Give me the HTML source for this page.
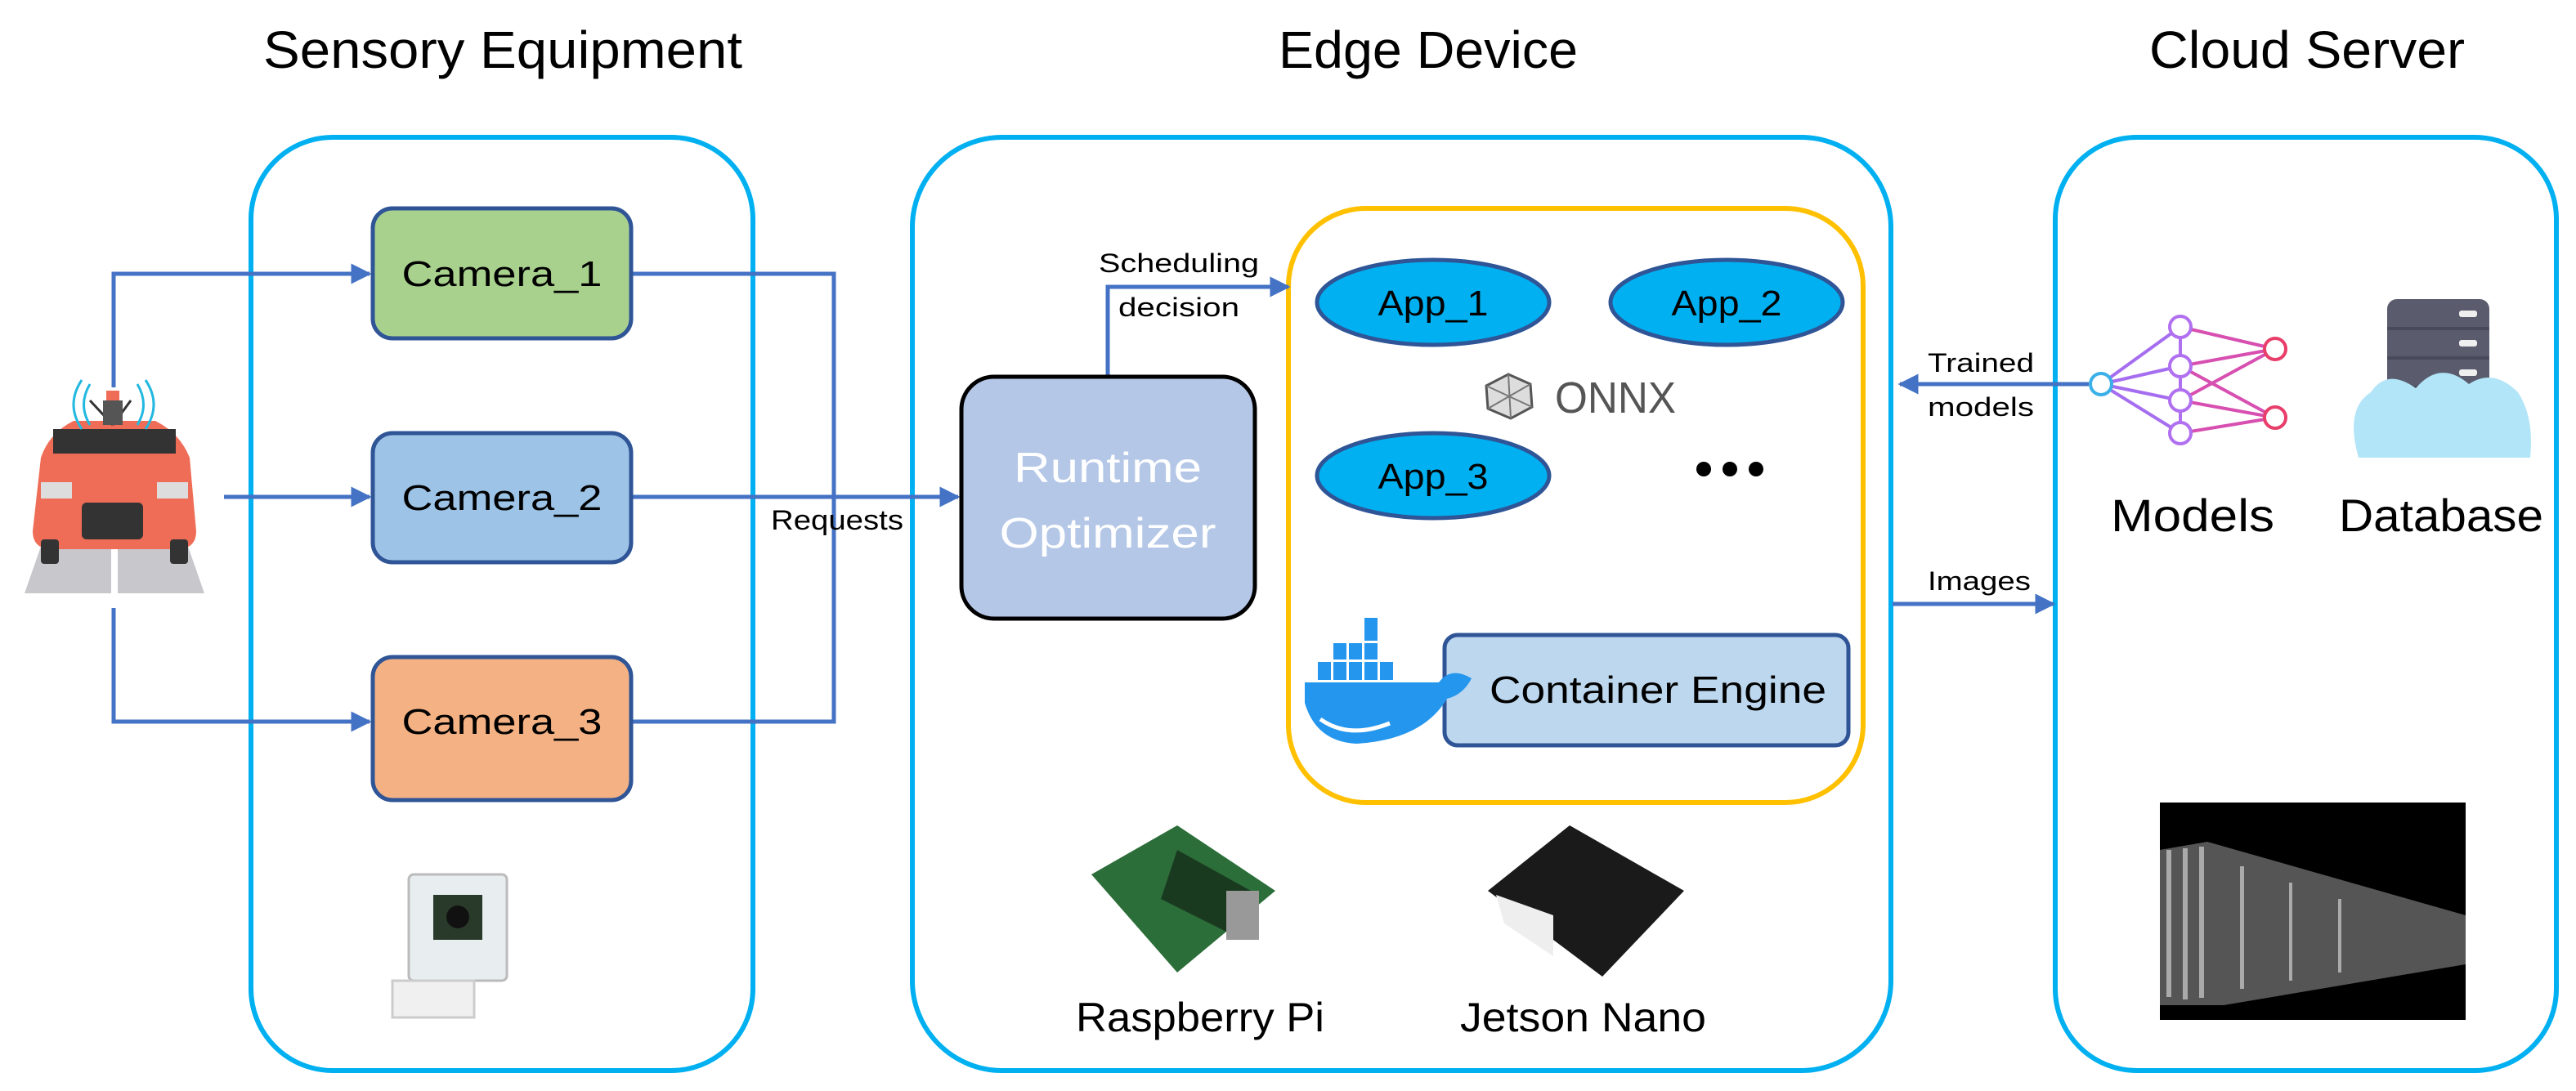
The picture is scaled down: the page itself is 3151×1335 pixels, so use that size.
<!DOCTYPE html>
<html><head><meta charset="utf-8"><style>html,body{margin:0;padding:0;background:#fff}svg{display:block}text{font-family:"Liberation Sans",sans-serif}</style></head>
<body>
<svg width="3151" height="1335" viewBox="0 0 3151 1335" xmlns="http://www.w3.org/2000/svg">
<defs>
<marker id="ah" viewBox="0 0 10 10" refX="9" refY="5" markerWidth="5" markerHeight="5" orient="auto"><path d="M0,0L10,5L0,10z" fill="#4472c4"/></marker>
</defs>
<!-- titles -->
<text x="322" y="83" font-size="64" textLength="586" lengthAdjust="spacingAndGlyphs">Sensory Equipment</text>
<text x="1564" y="83" font-size="64" textLength="366" lengthAdjust="spacingAndGlyphs">Edge Device</text>
<text x="2629" y="83" font-size="64" textLength="386" lengthAdjust="spacingAndGlyphs">Cloud Server</text>
<!-- big containers -->
<rect x="307" y="168" width="614" height="1142" rx="100" fill="none" stroke="#00b0f0" stroke-width="6"/>
<rect x="1116" y="168" width="1197" height="1142" rx="110" fill="none" stroke="#00b0f0" stroke-width="6"/>
<rect x="2514" y="168" width="613" height="1142" rx="100" fill="none" stroke="#00b0f0" stroke-width="6"/>
<rect x="1576" y="255" width="703" height="727" rx="95" fill="none" stroke="#ffc000" stroke-width="6"/>
<!-- connectors -->
<g stroke="#4472c4" stroke-width="5" fill="none">
<polyline points="139,474 139,335 452,335" marker-end="url(#ah)"/>
<polyline points="274,608 452,608" marker-end="url(#ah)"/>
<polyline points="139,744 139,883 452,883" marker-end="url(#ah)"/>
<polyline points="774,335 1020,335 1020,883 774,883"/>
<polyline points="774,608 1172,608" marker-end="url(#ah)"/>
<polyline points="1355,461 1355,351 1576,351" marker-end="url(#ah)"/>
<polyline points="2555,470 2324,470" marker-end="url(#ah)"/>
<polyline points="2315,739 2512,739" marker-end="url(#ah)"/>
</g>
<!-- cameras -->
<rect x="456" y="255" width="316" height="159" rx="24" fill="#a9d18e" stroke="#2f5597" stroke-width="5"/>
<rect x="456" y="530" width="316" height="158" rx="24" fill="#9dc3e6" stroke="#2f5597" stroke-width="5"/>
<rect x="456" y="804" width="316" height="175" rx="24" fill="#f4b183" stroke="#2f5597" stroke-width="5"/>
<text x="614" y="350" font-size="44" text-anchor="middle" textLength="245" lengthAdjust="spacingAndGlyphs">Camera_1</text>
<text x="614" y="624" font-size="44" text-anchor="middle" textLength="245" lengthAdjust="spacingAndGlyphs">Camera_2</text>
<text x="614" y="898" font-size="44" text-anchor="middle" textLength="245" lengthAdjust="spacingAndGlyphs">Camera_3</text>
<text x="943" y="648" font-size="34" textLength="162" lengthAdjust="spacingAndGlyphs">Requests</text>
<!-- car -->
<g>
<polygon points="30,726 250,726 220,640 60,640" fill="#c8c8cc"/>
<rect x="136" y="660" width="8" height="66" fill="#fff"/>
<path d="M50,560 Q60,530 90,515 L190,515 Q220,530 232,560 L240,650 Q240,670 220,672 L60,672 Q40,670 40,650Z" fill="#ef6c56"/>
<rect x="65" y="525" width="150" height="30" fill="#333"/>
<rect x="100" y="615" width="75" height="45" fill="#333" rx="6"/>
<rect x="50" y="590" width="38" height="20" fill="#ddd"/><rect x="192" y="590" width="38" height="20" fill="#ddd"/>
<rect x="50" y="660" width="22" height="30" fill="#333" rx="4"/><rect x="208" y="660" width="22" height="30" fill="#333" rx="4"/>
<line x1="138" y1="520" x2="110" y2="490" stroke="#333" stroke-width="3"/><line x1="138" y1="520" x2="160" y2="490" stroke="#333" stroke-width="3"/>
<rect x="126" y="490" width="24" height="30" fill="#555"/><rect x="130" y="478" width="16" height="12" fill="#ef6c56"/>
<path d="M110,470 Q95,495 110,520 M100,465 Q80,495 100,525 M168,470 Q183,495 168,520 M178,465 Q198,495 178,525" stroke="#22b8e0" stroke-width="3" fill="none"/>
</g>
<!-- camera photo -->
<g>
<rect x="500" y="1070" width="120" height="130" fill="#e8eef0" stroke="#bbb" stroke-width="3" rx="6"/>
<rect x="530" y="1095" width="60" height="55" fill="#2a3a2a"/>
<circle cx="560" cy="1122" r="14" fill="#111"/>
<rect x="480" y="1200" width="100" height="45" fill="#f0f0f0" stroke="#ccc" stroke-width="3"/>
</g>
<!-- runtime optimizer -->
<rect x="1176" y="461" width="359" height="296" rx="40" fill="#b4c7e7" stroke="#000" stroke-width="5"/>
<text x="1355" y="590" font-size="52" fill="#fff" text-anchor="middle" textLength="230" lengthAdjust="spacingAndGlyphs">Runtime</text>
<text x="1355" y="670" font-size="52" fill="#fff" text-anchor="middle" textLength="265" lengthAdjust="spacingAndGlyphs">Optimizer</text>
<text x="1344" y="333" font-size="32" textLength="196" lengthAdjust="spacingAndGlyphs">Scheduling</text>
<text x="1368" y="387" font-size="32" textLength="148" lengthAdjust="spacingAndGlyphs">decision</text>
<!-- apps -->
<g stroke="#2f5597" stroke-width="5" fill="#00b0f0">
<ellipse cx="1753" cy="370" rx="142" ry="52"/>
<ellipse cx="2112" cy="370" rx="142" ry="52"/>
<ellipse cx="1753" cy="582" rx="142" ry="52"/>
</g>
<text x="1753" y="386" font-size="44" text-anchor="middle" textLength="135" lengthAdjust="spacingAndGlyphs">App_1</text>
<text x="2112" y="386" font-size="44" text-anchor="middle" textLength="135" lengthAdjust="spacingAndGlyphs">App_2</text>
<text x="1753" y="598" font-size="44" text-anchor="middle" textLength="135" lengthAdjust="spacingAndGlyphs">App_3</text>
<polygon points="1845,458 1872,470 1874,498 1848,512 1820,500 1818,472" fill="#ddd" stroke="#555" stroke-width="3"/>
<path d="M1845,458 L1848,512 M1818,472 L1874,498 M1872,470 L1820,500" stroke="#777" stroke-width="2"/>
<text x="1902" y="505" font-size="54" fill="#555" textLength="148" lengthAdjust="spacingAndGlyphs">ONNX</text>
<circle cx="2084" cy="574" r="9" fill="#000"/><circle cx="2116" cy="574" r="9" fill="#000"/><circle cx="2148" cy="574" r="9" fill="#000"/>
<!-- container engine -->
<rect x="1767" y="777" width="494" height="135" rx="16" fill="#bdd7ee" stroke="#2f5597" stroke-width="5"/>
<text x="2028" y="860" font-size="46" text-anchor="middle" textLength="412" lengthAdjust="spacingAndGlyphs">Container Engine</text>
<!-- docker whale -->
<g fill="#2496ed">
<path d="M1596,835 L1760,835 Q1775,815 1800,830 Q1790,850 1770,855 Q1740,905 1660,910 Q1610,908 1596,860Z"/>
<rect x="1612" y="810" width="16" height="22"/><rect x="1631" y="810" width="16" height="22"/><rect x="1650" y="810" width="16" height="22"/><rect x="1669" y="810" width="16" height="22"/><rect x="1688" y="810" width="16" height="22"/>
<rect x="1631" y="787" width="16" height="20"/><rect x="1650" y="787" width="16" height="20"/><rect x="1669" y="787" width="16" height="20"/>
<rect x="1669" y="756" width="16" height="28"/>
</g>
<path d="M1615,880 Q1650,905 1700,885" stroke="#fff" stroke-width="5" fill="none"/>
<!-- raspberry / jetson -->
<polygon points="1335,1070 1440,1010 1560,1090 1440,1190" fill="#2c6e3a"/>
<polygon points="1440,1040 1530,1090 1500,1140 1420,1100" fill="#1a3a20"/>
<rect x="1500" y="1090" width="40" height="60" fill="#999"/>
<polygon points="1820,1090 1920,1010 2060,1090 1960,1195" fill="#1a1a1a"/>
<polygon points="1830,1095 1900,1120 1900,1170 1840,1130" fill="#eee"/>
<text x="1316" y="1262" font-size="50" textLength="304" lengthAdjust="spacingAndGlyphs">Raspberry Pi</text>
<text x="1786" y="1262" font-size="50" textLength="301" lengthAdjust="spacingAndGlyphs">Jetson Nano</text>
<!-- trained/images labels -->
<text x="2358" y="455" font-size="32" textLength="130" lengthAdjust="spacingAndGlyphs">Trained</text>
<text x="2358" y="509" font-size="32" textLength="130" lengthAdjust="spacingAndGlyphs">models</text>
<text x="2358" y="722" font-size="32" textLength="126" lengthAdjust="spacingAndGlyphs">Images</text>
<!-- NN icon -->
<g stroke-width="4" fill="none">
<g stroke="#a56ef0">
<line x1="2570" y1="470" x2="2667" y2="400"/><line x1="2570" y1="470" x2="2667" y2="448"/><line x1="2570" y1="470" x2="2667" y2="490"/><line x1="2570" y1="470" x2="2667" y2="530"/>
</g>
<g stroke="#d74fb0">
<line x1="2667" y1="400" x2="2783" y2="427"/><line x1="2667" y1="448" x2="2783" y2="427"/><line x1="2667" y1="448" x2="2783" y2="511"/><line x1="2667" y1="490" x2="2783" y2="427"/><line x1="2667" y1="490" x2="2783" y2="511"/><line x1="2667" y1="530" x2="2783" y2="511"/>
</g>
<line x1="2667" y1="400" x2="2667" y2="530" stroke="#b070f0"/>
<circle cx="2570" cy="470" r="13" fill="#fff" stroke="#3bb0e8"/>
<circle cx="2667" cy="400" r="13" fill="#fff" stroke="#b070f0"/><circle cx="2667" cy="448" r="13" fill="#fff" stroke="#b070f0"/><circle cx="2667" cy="490" r="13" fill="#fff" stroke="#b070f0"/><circle cx="2667" cy="530" r="13" fill="#fff" stroke="#b070f0"/>
<circle cx="2783" cy="427" r="13" fill="#fff" stroke="#e83e6a"/><circle cx="2783" cy="511" r="13" fill="#fff" stroke="#e83e6a"/>
</g>
<!-- database -->
<rect x="2920" y="366" width="125" height="160" rx="12" fill="#5a5c6e"/>
<g fill="#484a5a"><rect x="2920" y="400" width="125" height="4"/><rect x="2920" y="436" width="125" height="4"/><rect x="2920" y="472" width="125" height="4"/></g>
<g fill="#eee"><rect x="3008" y="380" width="22" height="8" rx="3"/><rect x="3008" y="416" width="22" height="8" rx="3"/><rect x="3008" y="452" width="22" height="8" rx="3"/></g>
<path d="M2885,560 Q2868,500 2900,480 Q2920,450 2955,475 Q2985,440 3020,470 Q3050,450 3080,480 Q3100,510 3095,560Z" fill="#b3e5f8"/>
<text x="2582" y="650" font-size="56" textLength="200" lengthAdjust="spacingAndGlyphs">Models</text>
<text x="2861" y="650" font-size="56" textLength="250" lengthAdjust="spacingAndGlyphs">Database</text>
<!-- server photo -->
<rect x="2642" y="982" width="374" height="266" fill="#000"/>
<polygon points="2642,1040 2700,1030 3016,1120 3016,1180 2720,1230 2642,1230" fill="#555"/>
<g fill="#aaa"><rect x="2650" y="1040" width="6" height="180"/><rect x="2670" y="1038" width="6" height="185"/><rect x="2690" y="1036" width="6" height="185"/><rect x="2740" y="1060" width="5" height="150"/><rect x="2800" y="1080" width="4" height="120"/><rect x="2860" y="1100" width="4" height="90"/></g>
</svg>
</body></html>
